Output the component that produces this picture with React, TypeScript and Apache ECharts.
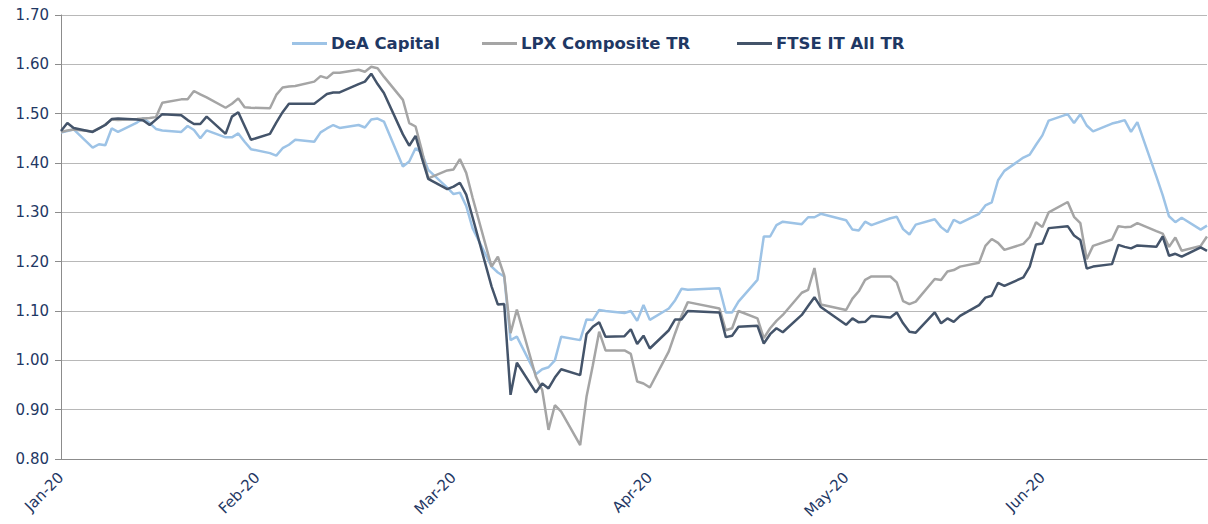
import React, { useEffect, useRef } from "react";
import * as echarts from "echarts";

// Trading dates (2020, MM-DD); first point is the base on 1 Jan
const dates = [
  "01-01", "01-02", "01-03", "01-06", "01-07", "01-08", "01-09", "01-10", "01-13", "01-14", "01-15", "01-16", "01-17", "01-20", "01-21", "01-22", "01-23", "01-24", "01-27", "01-28", "01-29", "01-30", "01-31",
  "02-03", "02-04", "02-05", "02-06", "02-07", "02-10", "02-11", "02-12", "02-13", "02-14", "02-17", "02-18", "02-19", "02-20", "02-21", "02-24", "02-25", "02-26", "02-27", "02-28",
  "03-02", "03-03", "03-04", "03-05", "03-06", "03-09", "03-10", "03-11", "03-12", "03-13", "03-16", "03-17", "03-18", "03-19", "03-20", "03-23", "03-24", "03-25", "03-26", "03-27", "03-30", "03-31",
  "04-01", "04-02", "04-03", "04-06", "04-07", "04-08", "04-09", "04-14", "04-15", "04-16", "04-17", "04-20", "04-21", "04-22", "04-23", "04-24", "04-27", "04-28", "04-29", "04-30",
  "05-04", "05-05", "05-06", "05-07", "05-08", "05-11", "05-12", "05-13", "05-14", "05-15", "05-18", "05-19", "05-20", "05-21", "05-22", "05-25", "05-26", "05-27", "05-28", "05-29",
  "06-01", "06-02", "06-03", "06-04", "06-05", "06-08", "06-09", "06-10", "06-11", "06-12", "06-15", "06-16", "06-17", "06-18", "06-19", "06-22", "06-23", "06-24", "06-25", "06-26", "06-29", "06-30",
];

const deaCapital = [
  1.462, 1.465, 1.468, 1.431, 1.438, 1.436, 1.470, 1.463, 1.482, 1.491, 1.481, 1.469, 1.466, 1.463, 1.475, 1.467, 1.450, 1.466, 1.452, 1.452, 1.460, 1.443, 1.428,
  1.420, 1.415, 1.430, 1.437, 1.447, 1.443, 1.462, 1.470, 1.477, 1.471, 1.477, 1.472, 1.488, 1.490, 1.484, 1.393, 1.403, 1.430, 1.420, 1.386,
  1.350, 1.337, 1.340, 1.313, 1.268, 1.190, 1.178, 1.170, 1.041, 1.048, 0.972, 0.982, 0.986, 1.000, 1.048, 1.041, 1.083, 1.082, 1.102, 1.100, 1.096, 1.100,
  1.080, 1.112, 1.082, 1.105, 1.122, 1.145, 1.143, 1.146, 1.097, 1.097, 1.119, 1.163, 1.251, 1.251, 1.274, 1.281, 1.276, 1.290, 1.290, 1.297,
  1.284, 1.265, 1.263, 1.281, 1.274, 1.288, 1.291, 1.266, 1.255, 1.275, 1.286, 1.270, 1.260, 1.285, 1.278, 1.297, 1.314, 1.320, 1.365, 1.384,
  1.411, 1.417, 1.437, 1.456, 1.486, 1.499, 1.481, 1.499, 1.476, 1.464, 1.480, 1.483, 1.487, 1.463, 1.483, 1.373, 1.335, 1.292, 1.280, 1.289, 1.265, 1.273,
];

const lpxComposite = [
  1.463, 1.466, 1.468, 1.464, 1.470, 1.478, 1.488, 1.487, 1.489, 1.490, 1.491, 1.493, 1.522, 1.529, 1.529, 1.546, 1.539, 1.533, 1.512, 1.520, 1.531, 1.513, 1.512,
  1.511, 1.538, 1.553, 1.555, 1.556, 1.565, 1.576, 1.572, 1.583, 1.583, 1.589, 1.585, 1.595, 1.592, 1.575, 1.528, 1.481, 1.474, 1.425, 1.369,
  1.385, 1.387, 1.408, 1.380, 1.330, 1.190, 1.210, 1.172, 1.055, 1.103, 0.967, 0.940, 0.859, 0.909, 0.896, 0.828, 0.926, 0.990, 1.058, 1.020, 1.020, 1.013,
  0.957, 0.953, 0.945, 1.018, 1.055, 1.090, 1.118, 1.105, 1.061, 1.065, 1.100, 1.085, 1.045, 1.065, 1.080, 1.092, 1.137, 1.143, 1.187, 1.113,
  1.102, 1.125, 1.140, 1.163, 1.170, 1.170, 1.158, 1.120, 1.114, 1.119, 1.165, 1.163, 1.180, 1.183, 1.190, 1.198, 1.232, 1.246, 1.238, 1.224,
  1.236, 1.250, 1.280, 1.270, 1.300, 1.321, 1.291, 1.278, 1.205, 1.232, 1.245, 1.272, 1.270, 1.271, 1.278, 1.262, 1.257, 1.230, 1.249, 1.222, 1.232, 1.251,
];

const ftseItAll = [
  1.465, 1.481, 1.471, 1.463, 1.470, 1.477, 1.489, 1.490, 1.488, 1.486, 1.477, 1.488, 1.499, 1.497, 1.487, 1.479, 1.479, 1.494, 1.459, 1.494, 1.503, 1.475, 1.447,
  1.459, 1.482, 1.503, 1.520, 1.520, 1.520, 1.530, 1.540, 1.543, 1.543, 1.560, 1.565, 1.581, 1.560, 1.542, 1.458, 1.435, 1.455, 1.410, 1.368,
  1.347, 1.352, 1.360, 1.336, 1.290, 1.150, 1.113, 1.114, 0.930, 0.995, 0.935, 0.953, 0.943, 0.965, 0.982, 0.970, 1.053, 1.068, 1.077, 1.048, 1.049, 1.063,
  1.033, 1.050, 1.024, 1.061, 1.083, 1.083, 1.100, 1.097, 1.047, 1.050, 1.068, 1.070, 1.034, 1.053, 1.065, 1.057, 1.092, 1.110, 1.128, 1.108,
  1.072, 1.085, 1.077, 1.078, 1.090, 1.087, 1.097, 1.075, 1.058, 1.056, 1.097, 1.075, 1.085, 1.078, 1.090, 1.112, 1.127, 1.131, 1.157, 1.151,
  1.168, 1.190, 1.235, 1.237, 1.268, 1.272, 1.253, 1.244, 1.186, 1.190, 1.195, 1.234, 1.230, 1.227, 1.233, 1.230, 1.251, 1.212, 1.216, 1.210, 1.229, 1.222,
];

const seriesNames = ["DeA Capital", "LPX Composite TR", "FTSE IT All TR"];
const seriesColors = ["#9DC3E6", "#A5A5A5", "#44546A"];
const monthLabels = ["Jan-20", "Feb-20", "Mar-20", "Apr-20", "May-20", "Jun-20"];
const legendLeft = [292, 482, 737];

const TEXT = "#1F3864";
const FONT = "'DejaVu Sans', Verdana, sans-serif";

const dayOf = (s: string) => {
  const [m, d] = s.split("-").map(Number);
  return (Date.UTC(2020, m - 1, d) - Date.UTC(2020, 0, 1)) / 86400000;
};

export default function App() {
  const ref = useRef<HTMLDivElement>(null);

  useEffect(() => {
    if (!ref.current) return;
    const chart = echarts.init(ref.current, undefined, { renderer: "svg" });
    const days = dates.map(dayOf);
    const all = [deaCapital, lpxComposite, ftseItAll];

    chart.setOption({
      animation: false,
      backgroundColor: "#ffffff",
      grid: { left: 61, right: 1, top: 15, bottom: 65, containLabel: false },
      legend: seriesNames.map((n, i) => ({
        data: [n],
        left: legendLeft[i],
        top: 35,
        padding: 0,
        icon: "rect",
        itemWidth: 35,
        itemHeight: 3,
        itemGap: 0,
        itemStyle: { color: seriesColors[i], borderWidth: 0 },
        textStyle: { color: TEXT, fontFamily: FONT, fontSize: 16.5, fontWeight: "bold", padding: [0, 0, 0, -1] },
      })),
      xAxis: {
        type: "value",
        min: 0,
        max: 181,
        interval: 31,
        splitLine: { show: false },
        axisTick: { show: false },
        axisLine: { show: true, lineStyle: { color: "#8C8C8C", width: 1 } },
        axisLabel: {
          rotate: 45,
          margin: 16,
          color: TEXT,
          fontFamily: FONT,
          fontSize: 15,
          showMaxLabel: false,
          formatter: (v: number) => {
            const k = Math.round(v / 31);
            return Math.abs(v - k * 31) < 0.01 && monthLabels[k] ? monthLabels[k] : "";
          },
        },
      },
      yAxis: {
        type: "value",
        min: 0.8,
        max: 1.7,
        interval: 0.1,
        axisLine: { show: true, lineStyle: { color: "#8C8C8C", width: 1 } },
        axisTick: { show: true, length: 6, lineStyle: { color: "#8C8C8C" } },
        splitLine: { show: true, lineStyle: { color: "#B8B8B8", width: 1 } },
        axisLabel: {
          color: TEXT,
          fontFamily: FONT,
          fontSize: 15,
          margin: 12,
          formatter: (v: number) => v.toFixed(2),
        },
      },
      series: all.map((vals, i) => ({
        name: seriesNames[i],
        type: "line",
        symbol: "none",
        showSymbol: false,
        data: vals.map((v, j) => [days[j], v]),
        lineStyle: { color: seriesColors[i], width: 2.5 },
        itemStyle: { color: seriesColors[i] },
        z: 2 + i,
      })),
    });

    return () => chart.dispose();
  }, []);

  return (
    <div
      ref={ref}
      style={{ position: "fixed", left: 0, top: 0, width: 1208, height: 524, background: "#fff" }}
    />
  );
}
